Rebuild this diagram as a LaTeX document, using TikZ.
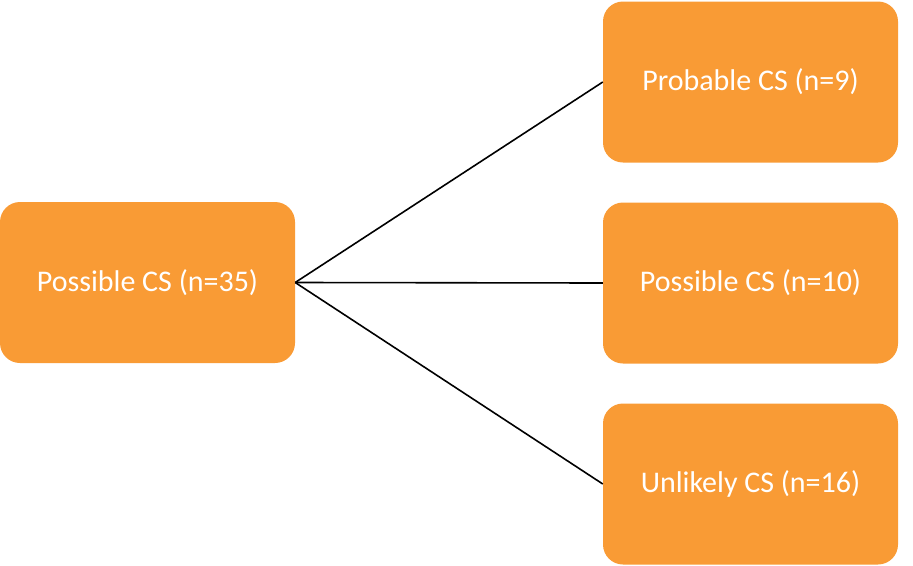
\documentclass[tikz,border=0pt]{standalone}
\usepackage{fontspec}
\setmainfont{Carlito}
\definecolor{boxorange}{HTML}{F99B35}
\begin{document}
\begin{tikzpicture}[x=1pt,y=-1pt,
  cbox/.style={fill=boxorange, draw=none, rounded corners=20pt, minimum width=295pt, minimum height=161pt, inner sep=0pt, text=white, font=\fontsize{30}{34}\selectfont, anchor=center},
  conn/.style={draw=black, line width=1.6pt}]
\useasboundingbox (0,0) rectangle (913,565);
\node[cbox] (src) at (147.5,282.5) {\raisebox{0pt}{Possible CS (n=35)}};
\node[cbox] (prob) at (750.5,82) {Probable CS (n=9)};
\node[cbox] (poss) at (750.5,283) {Possible CS (n=10)};
\node[cbox] (unl) at (750.5,484) {Unlikely CS (n=16)};
\draw[conn] (src.east) -- (prob.west);
\draw[conn] (src.east) -- (poss.west);
\draw[conn] (src.east) -- (unl.west);
\end{tikzpicture}
\end{document}
